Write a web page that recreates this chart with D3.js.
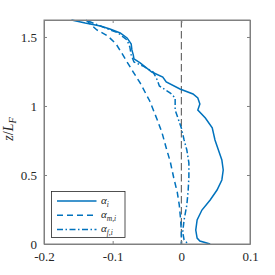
<!DOCTYPE html>
<html>
<head>
<meta charset="utf-8">
<script src="https://cdn.jsdelivr.net/npm/d3@7"></script>
<style>
  body { margin: 0; background: #fff; }
</style>
</head>
<body>
<svg id="chart" width="275" height="275"></svg>
<script>
// z/L_F profiles: [alpha, z]
const alphaI = [
  [-0.160, 1.623], [-0.140, 1.601], [-0.118, 1.580], [-0.104, 1.558], [-0.089, 1.529],
  [-0.079, 1.493], [-0.073, 1.449], [-0.072, 1.406], [-0.070, 1.370], [-0.069, 1.341],
  [-0.060, 1.312], [-0.043, 1.246], [-0.027, 1.210], [-0.022, 1.174], [-0.002, 1.123],
  [0.017, 1.087], [0.024, 1.058], [0.027, 1.014], [0.024, 0.971], [0.035, 0.913],
  [0.045, 0.841], [0.049, 0.754], [0.054, 0.681], [0.059, 0.609], [0.061, 0.536],
  [0.059, 0.464], [0.052, 0.391], [0.042, 0.319], [0.030, 0.246], [0.023, 0.174],
  [0.021, 0.101], [0.023, 0.043], [0.027, 0.022], [0.042, 0.0]
];
const alphaMI = [
  [-0.139, 1.623], [-0.123, 1.551], [-0.107, 1.507], [-0.095, 1.449], [-0.086, 1.377],
  [-0.079, 1.319], [-0.070, 1.246], [-0.060, 1.167], [-0.046, 1.036], [-0.035, 0.899],
  [-0.028, 0.804], [-0.022, 0.696], [-0.016, 0.594], [-0.011, 0.478], [-0.006, 0.377],
  [-0.003, 0.283], [-0.001, 0.174], [0.000, 0.087], [0.000, 0.0]
];
const alphaFI = [
  [-0.136, 1.616], [-0.114, 1.572], [-0.092, 1.529], [-0.079, 1.478], [-0.075, 1.428],
  [-0.073, 1.370], [-0.069, 1.319], [-0.056, 1.290], [-0.041, 1.246], [-0.035, 1.188],
  [-0.032, 1.145], [-0.016, 1.094], [-0.009, 1.058], [-0.009, 0.971], [-0.005, 0.913],
  [0.000, 0.841], [0.004, 0.754], [0.008, 0.681], [0.011, 0.587], [0.011, 0.486],
  [0.010, 0.391], [0.008, 0.283], [0.004, 0.174], [0.002, 0.087], [0.004, 0.029],
  [0.010, 0.0]
];
const xTicks = [-0.2, -0.1, 0, 0.1];
const xTickLabels = ["-0.2", "-0.1", "0", "0.1"];
const yTicks = [0, 0.5, 1, 1.5];
const yTickLabels = ["0", "0.5", "1", "1.5"];

const blue = "#0072BD";
const serif = "'Liberation Serif', 'DejaVu Serif', serif";
const svg = d3.select("#chart");
const margin = { top: 20, right: 25, bottom: 31, left: 44 };
const width = 275 - margin.left - margin.right;
const height = 275 - margin.top - margin.bottom;

const x = d3.scaleLinear().domain([-0.2, 0.1]).range([0, width]);
const y = d3.scaleLinear().domain([0, 1.623]).range([height, 0]);

const g = svg.append("g").attr("transform", `translate(${margin.left},${margin.top})`);

// zero line
g.append("line")
  .attr("x1", x(0)).attr("x2", x(0))
  .attr("y1", 0).attr("y2", height)
  .attr("stroke", "#4d4d4d").attr("stroke-width", 1)
  .attr("stroke-dasharray", "7.5,3.5");

const line = d3.line().x(d => x(d[0])).y(d => y(d[1]));

const series = [
  { data: alphaI, dash: null },
  { data: alphaMI, dash: "6,4" },
  { data: alphaFI, dash: "6,2.5,1.5,2.5" }
];

g.selectAll("path.series")
  .data(series)
  .join("path")
  .attr("class", "series")
  .attr("d", d => line(d.data))
  .attr("fill", "none")
  .attr("stroke", blue)
  .attr("stroke-width", 1.5)
  .attr("stroke-dasharray", d => d.dash);

// axes, ticks inward, mirrored on top/right
const axisColor = "#808080";
const xAxis = d3.axisBottom(x).tickValues(xTicks).tickFormat((d, i) => xTickLabels[i]).tickSizeInner(-3).tickSizeOuter(0).tickPadding(8);
const yAxis = d3.axisLeft(y).tickValues(yTicks).tickFormat((d, i) => yTickLabels[i]).tickSizeInner(-3).tickSizeOuter(0).tickPadding(7);

const gx = g.append("g").attr("transform", `translate(0,${height})`).call(xAxis);
const gy = g.append("g").call(yAxis);
g.append("g").call(d3.axisTop(x).tickValues(xTicks).tickFormat("").tickSizeInner(-3).tickSizeOuter(0));
g.append("g").attr("transform", `translate(${width},0)`).call(d3.axisRight(y).tickValues(yTicks).tickFormat("").tickSizeInner(-3).tickSizeOuter(0));

g.selectAll(".domain").attr("stroke", axisColor);
g.selectAll(".tick line").attr("stroke", axisColor);
g.selectAll(".tick text")
  .attr("font-family", serif)
  .attr("font-size", 13)
  .attr("fill", "#262626");

g.append("rect")
  .attr("width", width).attr("height", height)
  .attr("fill", "none").attr("stroke", axisColor).attr("stroke-width", 1);

// y label
const yl = svg.append("text")
  .attr("transform", `translate(13,${margin.top + height / 2 - 3}) rotate(-90)`)
  .attr("text-anchor", "middle")
  .attr("font-family", serif)
  .attr("font-size", 14)
  .attr("fill", "#262626");
yl.append("tspan").attr("font-style", "italic").text("z");
yl.append("tspan").text("/");
yl.append("tspan").attr("font-style", "italic").text("L");
yl.append("tspan").attr("font-style", "italic").attr("font-size", 10).attr("dy", 3).text("F");

// legend
const legend = g.append("g").attr("transform", `translate(${51.5 - margin.left},${191.5 - margin.top})`);
legend.append("rect")
  .attr("width", 73.5).attr("height", 46)
  .attr("fill", "#fff").attr("stroke", "#262626").attr("stroke-width", 0.8);

const legendLabels = ["i", "m,i", "f,i"];
series.forEach((s, i) => {
  const ly = 9.5 + i * 14.2;
  legend.append("line")
    .attr("x1", 5.5).attr("x2", 45)
    .attr("y1", ly).attr("y2", ly)
    .attr("stroke", blue).attr("stroke-width", 1.5)
    .attr("stroke-dasharray", s.dash);
  const t = legend.append("text")
    .attr("x", 49.5).attr("y", ly + 3)
    .attr("font-family", serif)
    .attr("font-size", 11)
    .attr("fill", "#262626");
  t.append("tspan").attr("font-style", "italic").text("\u03b1");
  t.append("tspan").attr("font-style", "italic").attr("font-size", 7.5).attr("dy", 2.5).text(legendLabels[i]);
});
</script>
</body>
</html>
